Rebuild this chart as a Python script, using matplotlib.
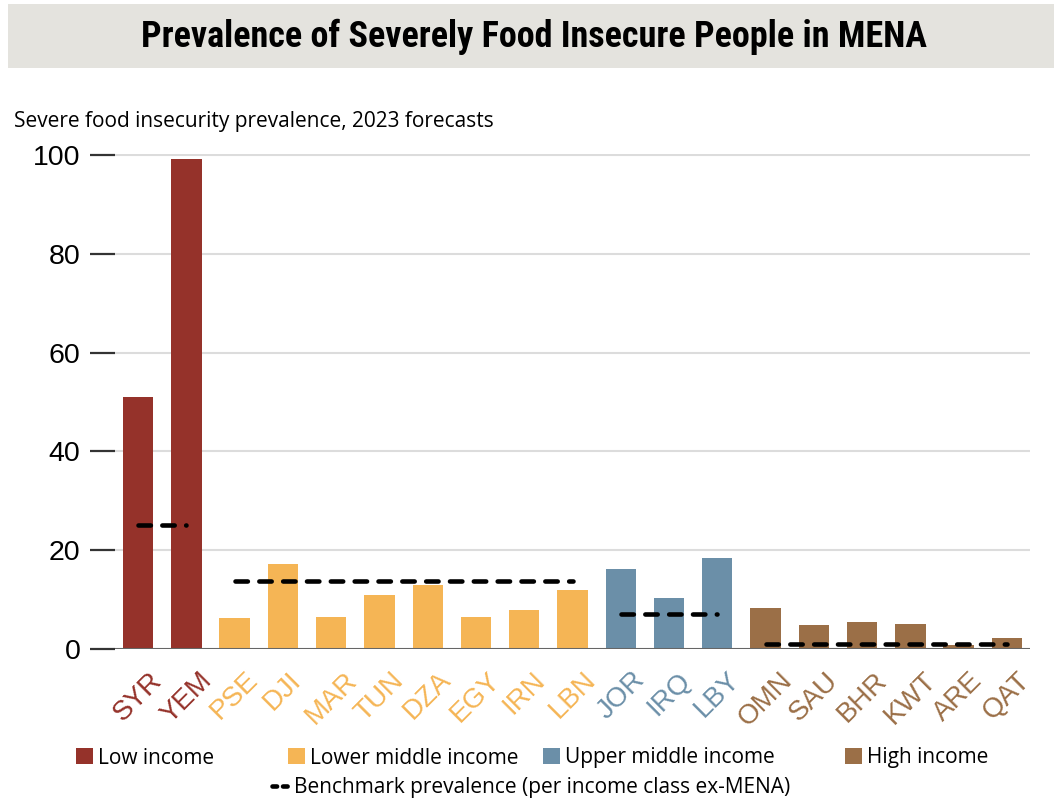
import matplotlib.pyplot as plt
from matplotlib.patches import Patch, Rectangle
from matplotlib.lines import Line2D

# Severe food insecurity prevalence (% of population), 2023 forecasts
countries = ["SYR", "YEM", "PSE", "DJI", "MAR", "TUN", "DZA", "EGY", "IRN", "LBN",
             "JOR", "IRQ", "LBY", "OMN", "SAU", "BHR", "KWT", "ARE", "QAT"]
prevalence = [51.0, 99.2, 6.2, 17.2, 6.5, 11.0, 13.0, 6.5, 7.8, 12.0,
              16.2, 10.4, 18.5, 8.4, 4.8, 5.5, 5.1, 0.9, 2.3]
income_class = [0, 0, 1, 1, 1, 1, 1, 1, 1, 1, 2, 2, 2, 3, 3, 3, 3, 3, 3]

class_names = ["Low income", "Lower middle income", "Upper middle income", "High income"]
class_colors = ["#95322a", "#f5b555", "#6b8fa8", "#9b6f47"]
# benchmark prevalence per income class, excluding MENA
benchmark = [25.2, 13.8, 7.0, 1.0]

W, H = 1054, 802
fig = plt.figure(figsize=(W / 100, H / 100), dpi=100)

body_font = ["Open Sans", "DejaVu Sans"]

# title band
fig.patches.append(Rectangle((8 / W, 1 - 68 / H), 1, 64 / H, transform=fig.transFigure,
                             facecolor="#e4e3de", edgecolor="none", zorder=0))
fig.text(0.507, 1 - 37 / H, "Prevalence of Severely Food Insecure People in MENA",
         ha="center", va="center", fontsize=26, fontweight="bold",
         family=["Roboto Condensed", "Liberation Sans"])
fig.text(14 / W, 1 - 121 / H, "Severe food insecurity prevalence, 2023 forecasts",
         ha="left", va="center", fontsize=15, family=body_font)

ax = fig.add_axes([115 / W, 1 - 649 / H, 915 / W, 495.5 / H])
x = list(range(len(countries)))
colors = [class_colors[c] for c in income_class]
ax.bar(x, prevalence, width=0.63, color=colors, zorder=2)

for k, level in enumerate(benchmark):
    members = [i for i, c in enumerate(income_class) if c == k]
    ax.plot([members[0], members[-1]], [level, level], color="black", lw=3.3,
            linestyle=(0, (2.7, 2.5)), dash_capstyle="round", zorder=3)

ax.set_xlim(-0.48, len(countries) - 0.52)
ax.set_ylim(0, 100.3)
ax.set_yticks([0, 20, 40, 60, 80, 100])
ax.yaxis.grid(True, color="#dcdcdc", lw=1.5)
ax.set_axisbelow(True)
ax.axhline(0, color="#666666", lw=2.2, zorder=4)
for s in ax.spines.values():
    s.set_visible(False)

ax.tick_params(axis="y", length=18, width=1.6, color="#333333", pad=7, labelsize=20.5)
ax.tick_params(axis="x", length=0, pad=13)
ax.set_xticks(x)
ax.set_xticklabels(countries, rotation=45, ha="center", fontsize=20)
for lab, c in zip(ax.get_xticklabels(), colors):
    lab.set_color(c)
for lab in ax.get_xticklabels() + ax.get_yticklabels():
    lab.set_family(["Liberation Sans", "DejaVu Sans"])


def add_key(handle, label, px, py):
    fig.legend(handles=[handle], labels=[label], loc="center left",
               bbox_to_anchor=(px / W, 1 - py / H), frameon=False,
               borderpad=0, borderaxespad=0, handlelength=0.8, handleheight=0.8,
               handletextpad=0.25, prop={"family": body_font, "size": 15})


key_x = [76, 288, 543, 845]
for name, col, kx in zip(class_names, class_colors, key_x):
    add_key(Patch(facecolor=col, edgecolor="none"), name, kx, 758)

add_key(Line2D([], [], color="black", lw=3.3, linestyle=(0, (1.0, 1.3)),
               dash_capstyle="round"),
        "Benchmark prevalence (per income class ex-MENA)", 272, 788)

fig.savefig("out.png", dpi=100)
